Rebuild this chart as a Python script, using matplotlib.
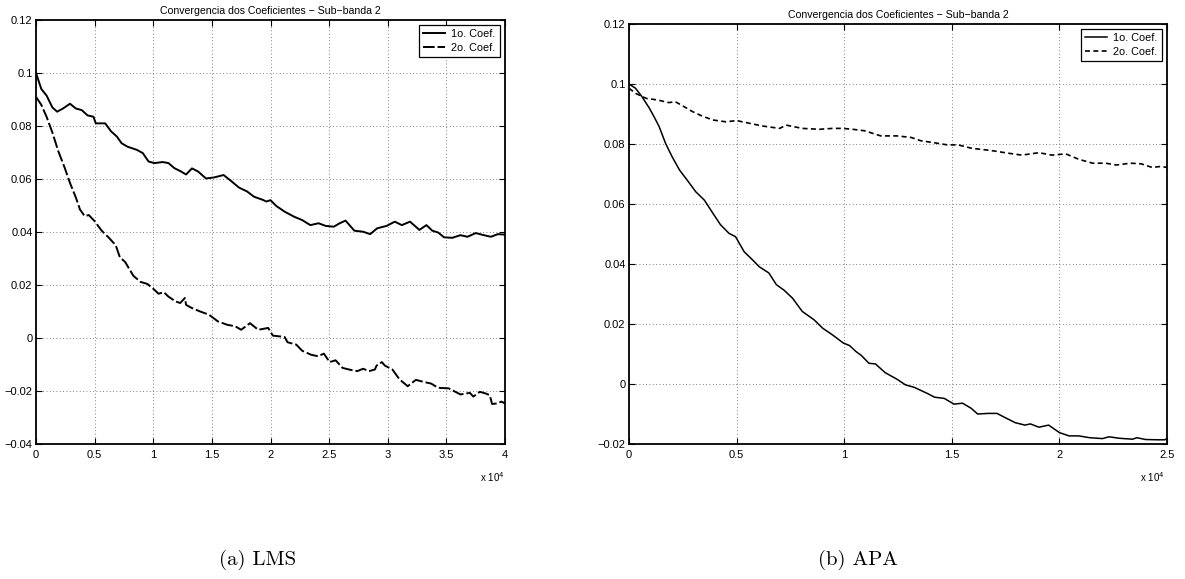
import matplotlib
matplotlib.use("Agg")
import matplotlib.pyplot as plt

plt.rcParams["font.family"] = ["Liberation Sans", "DejaVu Sans"]

# ── data ──────────────────────────────────────────────────────────────────────
# (a) LMS
lms_x1 = [0, 450, 900, 1400, 1800, 2300, 2900, 3400, 3900, 4400, 4900, 5100, 5900,
          6400, 6900, 7300, 7800, 8600, 9100, 9600, 10100, 10800, 11300, 11800,
          12300, 12800, 13300, 13800, 14500, 15200, 16000, 16600, 17300, 18000,
          18600, 19300, 19650, 20000, 20500, 21200, 22000, 22700, 23400, 24100,
          24700, 25400, 25900, 26400, 27150, 27900, 28500, 29100, 29900, 30600,
          31200, 31900, 32700, 33300, 33800, 34300, 34800, 35500, 36200, 36800,
          37500, 38200, 38800, 39400, 40000]
lms_c1 = [0.100, 0.094, 0.0915, 0.087, 0.0854, 0.0866, 0.0884, 0.0866, 0.086, 0.084,
          0.0835, 0.081, 0.081, 0.078, 0.076, 0.0735, 0.0722, 0.071, 0.0698, 0.0666,
          0.066, 0.0664, 0.066, 0.0641, 0.063, 0.0617, 0.064, 0.0629, 0.0602, 0.0606,
          0.0615, 0.0594, 0.0568, 0.0553, 0.0533, 0.0522, 0.0515, 0.052, 0.0498,
          0.0477, 0.0458, 0.0445, 0.0426, 0.0433, 0.0423, 0.042, 0.0433, 0.0443,
          0.0405, 0.0401, 0.0392, 0.0414, 0.0423, 0.0439, 0.0426, 0.0439, 0.0408,
          0.0426, 0.0405, 0.0398, 0.038, 0.0378, 0.0388, 0.0382, 0.0396, 0.0388,
          0.0382, 0.0392, 0.039]

lms_x2 = [0, 450, 900, 1400, 1900, 2400, 2900, 3400, 3750, 4150, 4500, 5000, 5600,
          6200, 6800, 7150, 7600, 8300, 8900, 9500, 10050, 10450, 10900, 11300,
          11900, 12300, 12700, 12800, 13300, 14000, 14750, 15500, 16300, 17000,
          17500, 18250, 18950, 19800, 20200, 21200, 21450, 22200, 22700, 23450,
          24050, 24550, 25050, 25550, 26150, 26900, 27400, 27900, 28400, 28900,
          29050, 29500, 29750, 30400, 31000, 31700, 32400, 33000, 33700, 34300,
          35200, 36200, 37000, 37300, 37850, 38400, 38700, 38900, 39300, 39700, 40000]
lms_c2 = [0.091, 0.088, 0.0835, 0.0775, 0.0705, 0.0648, 0.0585, 0.053, 0.0485, 0.046,
          0.0464, 0.0441, 0.0405, 0.0379, 0.035, 0.0305, 0.0287, 0.0235, 0.0212,
          0.0204, 0.0184, 0.0167, 0.0173, 0.0156, 0.0138, 0.0132, 0.0151, 0.0125,
          0.0113, 0.010, 0.0088, 0.0063, 0.005, 0.0044, 0.0031, 0.0056, 0.0031,
          0.0038, 0.0009, 0.0004, -0.0016, -0.0025, -0.0048, -0.0063, -0.0069,
          -0.0059, -0.0091, -0.0084, -0.0113, -0.0121, -0.0125, -0.0116, -0.0125,
          -0.0119, -0.0104, -0.0091, -0.0104, -0.0119, -0.0156, -0.0182, -0.0158,
          -0.0165, -0.0172, -0.0188, -0.019, -0.0213, -0.0207, -0.0221, -0.0203,
          -0.021, -0.0216, -0.0249, -0.0247, -0.024, -0.0247]

# (b) APA
apa_x1 = [0, 300, 600, 950, 1200, 1400, 1700, 2000, 2350, 2700, 3100, 3500, 3900,
          4250, 4650, 4950, 5350, 5750, 6050, 6500, 6850, 7200, 7600, 8050, 8600,
          9000, 9450, 9950, 10250, 10550, 10800, 11150, 11450, 11900, 12450, 12850,
          13250, 13850, 14200, 14650, 15100, 15500, 15900, 16200, 16700, 17100,
          17450, 17950, 18400, 18650, 19050, 19500, 20000, 20450, 20900, 21400,
          22000, 22300, 22800, 23400, 23600, 24000, 24600, 24900, 25000]
apa_c1 = [0.100, 0.0986, 0.0958, 0.0919, 0.0886, 0.0858, 0.0802, 0.0758, 0.0713,
          0.068, 0.0641, 0.0613, 0.0569, 0.0531, 0.0502, 0.0491, 0.0441, 0.0413,
          0.0391, 0.037, 0.0331, 0.0313, 0.0286, 0.0242, 0.0214, 0.0186, 0.0164,
          0.0137, 0.0128, 0.0108, 0.0095, 0.0069, 0.0067, 0.0038, 0.0016, -0.0003,
          -0.0011, -0.0031, -0.0044, -0.0048, -0.0067, -0.0064, -0.0081, -0.010,
          -0.0098, -0.0098, -0.0111, -0.0129, -0.0137, -0.0133, -0.0144, -0.0137,
          -0.0162, -0.0173, -0.0173, -0.0179, -0.0182, -0.0176, -0.0181, -0.0184,
          -0.0179, -0.0185, -0.0186, -0.0186, -0.0181]

apa_x2 = [0, 300, 800, 1300, 1850, 2150, 2500, 2950, 3400, 3900, 4500, 5000, 5600,
          6200, 7000, 7300, 8050, 8850, 9450, 9950, 10400, 10950, 11700, 12450,
          13100, 13550, 14200, 14800, 15300, 15900, 16850, 17650, 18250, 19050,
          19650, 20300, 20900, 21550, 22150, 22650, 23300, 23800, 24300, 24700, 25000]
apa_c2 = [0.0986, 0.0969, 0.0952, 0.0947, 0.0938, 0.0941, 0.0927, 0.0908, 0.0893,
          0.088, 0.0874, 0.0878, 0.0869, 0.086, 0.0852, 0.0863, 0.0852, 0.0849,
          0.0852, 0.0852, 0.0849, 0.0844, 0.0827, 0.0827, 0.0822, 0.0811, 0.0804,
          0.0797, 0.0797, 0.0786, 0.0778, 0.0769, 0.0763, 0.0771, 0.0763, 0.0767,
          0.0749, 0.0736, 0.0736, 0.073, 0.0736, 0.0734, 0.0722, 0.0725, 0.0722]

# ── ticks / labels ────────────────────────────────────────────────────────────
lms_xticks = [0, 5000, 10000, 15000, 20000, 25000, 30000, 35000, 40000]
lms_xlabels = ["0", "0.5", "1", "1.5", "2", "2.5", "3", "3.5", "4"]
lms_yticks = [-0.04, -0.02, 0, 0.02, 0.04, 0.06, 0.08, 0.1, 0.12]
lms_ylabels = ["\u22120.04", "\u22120.02", "0", "0.02", "0.04", "0.06", "0.08", "0.1", "0.12"]

apa_xticks = [0, 5000, 10000, 15000, 20000, 25000]
apa_xlabels = ["0", "0.5", "1", "1.5", "2", "2.5"]
apa_yticks = [-0.02, 0, 0.02, 0.04, 0.06, 0.08, 0.1, 0.12]
apa_ylabels = ["\u22120.02", "0", "0.02", "0.04", "0.06", "0.08", "0.1", "0.12"]

TITLE = "Convergencia dos Coeficientes \u2212 Sub\u2212banda 2"
LEGEND = ["1o. Coef.", "2o. Coef."]

W, H = 1185, 579
fig = plt.figure(figsize=(W / 100, H / 100), dpi=100)


def px_axes(x0, y0, x1, y1):
    return fig.add_axes([x0 / W, 1 - y1 / H, (x1 - x0) / W, (y1 - y0) / H])


def style(ax, xlim, ylim, xt, xl, yt, yl):
    ax.set_xlim(*xlim)
    ax.set_ylim(*ylim)
    ax.set_xticks(xt)
    ax.set_xticklabels(xl)
    ax.set_yticks(yt)
    ax.set_yticklabels(yl)
    ax.tick_params(direction="in", top=True, right=True, length=4, width=0.8,
                   labelsize=8)
    ax.tick_params(axis="y", pad=2.5)
    ax.tick_params(axis="x", pad=4)
    ax.grid(True, color="0.35", linestyle=(0, (1, 3)), linewidth=0.6)
    for s in ax.spines.values():
        s.set_linewidth(1.3)
    ax.set_title(TITLE, fontsize=7.6, pad=4)
    leg = ax.legend(LEGEND, loc="upper right", fontsize=7.8, fancybox=False,
                    framealpha=1, edgecolor="black", borderaxespad=0.45,
                    handlelength=2.0, borderpad=0.4, labelspacing=0.35,
                    handletextpad=0.6)
    leg.get_frame().set_linewidth(0.9)


# ── (a) LMS ───────────────────────────────────────────────────────────────────
ax1 = px_axes(36, 20, 505, 444)
ax1.plot(lms_x1, lms_c1, color="black", linewidth=1.4)
ax1.plot(lms_x2, lms_c2, color="black", linewidth=1.4, dashes=(6, 1.5))
style(ax1, (0, 40000), (-0.04, 0.12), lms_xticks, lms_xlabels, lms_yticks, lms_ylabels)
fig.text(492 / W, 1 - 477 / H, r"x 10$^4$", fontsize=7, ha="center", va="center")

# ── (b) APA ───────────────────────────────────────────────────────────────────
ax2 = px_axes(629, 24, 1167, 444)
ax2.plot(apa_x1, apa_c1, color="black", linewidth=1.1)
ax2.plot(apa_x2, apa_c2, color="black", linewidth=1.2, dashes=(3, 2))
style(ax2, (0, 25000), (-0.02, 0.12), apa_xticks, apa_xlabels, apa_yticks, apa_ylabels)
fig.text(1152 / W, 1 - 477 / H, r"x 10$^4$", fontsize=7, ha="center", va="center")

# ── captions ──────────────────────────────────────────────────────────────────
fig.text(258 / W, 1 - 560 / H, "(a) LMS", fontsize=15, family="cmr10",
         ha="center", va="center")
fig.text(858 / W, 1 - 560 / H, "(b) APA", fontsize=15, family="cmr10",
         ha="center", va="center")

fig.savefig("out.png", dpi=100)
